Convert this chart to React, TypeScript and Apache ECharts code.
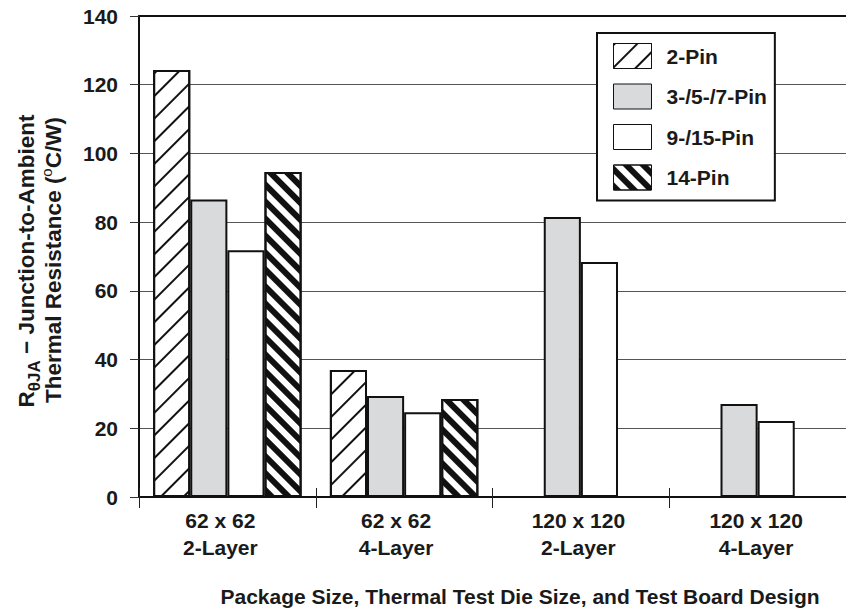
import React, { useEffect, useRef } from "react";
import * as echarts from "echarts";

const categories = ["62 x 62\n2-Layer", "62 x 62\n4-Layer", "120 x 120\n2-Layer", "120 x 120\n4-Layer"];
const seriesNames = ["2-Pin", "3-/5-/7-Pin", "9-/15-Pin", "14-Pin"];
const pin2 = [124.3, 37.0, null, null];
const pin357 = [86.6, 29.4, 81.5, 27.1];
const pin915 = [71.8, 24.7, 68.4, 22.1];
const pin14 = [94.6, 28.5, null, null];
const yTicks = [0, 20, 40, 60, 80, 100, 120, 140];

const FONT = "'Liberation Sans', Arial, Helvetica, sans-serif";
const TXT = "#1a1a1a";

export default function App() {
  const ref = useRef<HTMLDivElement>(null);
  useEffect(() => {
    if (!ref.current) return;
    const chart = echarts.init(ref.current, null, { renderer: "svg" });
    const labelShift = [14, 16, 5, 3];
    const baseLabel = { fontFamily: FONT, fontWeight: "bold", fontSize: 21, color: TXT };
    const border = { borderColor: "#111", borderWidth: 2 };
    const option: any = {
      animation: false,
      backgroundColor: "#fff",
      grid: { left: 139, top: 16, width: 714, height: 481, containLabel: false },
      legend: {
        show: true,
        orient: "vertical",
        left: 597,
        top: 33,
        padding: [10, 8, 10, 16],
        itemWidth: 38,
        itemHeight: 25,
        itemGap: 14.5,
        icon: "rect",
        borderColor: "#111",
        borderWidth: 2,
        backgroundColor: "#fff",
        itemStyle: { borderWidth: 1, borderColor: "#111" },
        textStyle: { ...baseLabel, padding: [0, 0, 0, 10] },
        data: seriesNames,
      },
      xAxis: [
        {
          type: "category",
          position: "bottom",
          data: categories.map((c, i) => ({ value: c, textStyle: { padding: [0, labelShift[i], 0, 0] } })),
          axisLine: { show: true, lineStyle: { color: "#111", width: 2 } },
          axisTick: { show: true, inside: false, length: 11, lineStyle: { color: "#222", width: 1 } },
          axisLabel: { ...baseLabel, lineHeight: 27, margin: 10, interval: 0 },
          splitLine: { show: false },
        },
        {
          type: "category",
          position: "bottom",
          data: categories,
          axisLine: { show: false },
          axisTick: { show: true, inside: true, length: 9, lineStyle: { color: "#222", width: 1 } },
          axisLabel: { show: false },
          splitLine: { show: false },
        },
        {
          type: "category",
          position: "top",
          data: categories,
          axisLine: { show: true, lineStyle: { color: "#111", width: 2 } },
          axisTick: { show: false },
          axisLabel: { show: false },
          splitLine: { show: false },
        },
      ],
      yAxis: {
        type: "value",
        min: yTicks[0],
        max: yTicks[yTicks.length - 1],
        interval: 20,
        axisLine: { show: true, lineStyle: { color: "#111", width: 2 } },
        axisTick: { show: true, inside: false, length: 9, lineStyle: { color: "#333", width: 1 } },
        axisLabel: { ...baseLabel, margin: 21 },
        splitLine: { show: true, lineStyle: { color: "#555", width: 1 } },
      },
      graphic: [
        {
          type: "text",
          x: 25,
          y: 261,
          rotation: Math.PI / 2,
          style: {
            text: "{a|R}{s|θJA}{a| − Junction-to-Ambient}",
            align: "center",
            verticalAlign: "middle",
            rich: {
              a: { fontFamily: FONT, fontWeight: "bold", fontSize: 22.5, fill: TXT, lineHeight: 26, verticalAlign: "bottom" },
              s: { fontFamily: FONT, fontWeight: "bold", fontSize: 17, fill: TXT, lineHeight: 26, verticalAlign: "bottom", padding: [0, 0, -5, 0] },
            },
          },
        },
        {
          type: "text",
          x: 52,
          y: 260,
          rotation: Math.PI / 2,
          style: {
            text: "{a|Thermal Resistance (}{o|o}{a|C/W)}",
            align: "center",
            verticalAlign: "middle",
            rich: {
              a: { fontFamily: FONT, fontWeight: "bold", fontSize: 22.5, fill: TXT, lineHeight: 26, verticalAlign: "bottom" },
              o: { fontFamily: FONT, fontWeight: "normal", fontSize: 15, fill: TXT, lineHeight: 26, verticalAlign: "top" },
            },
          },
        },
        {
          type: "text",
          x: 520,
          y: 596,
          style: {
            text: "Package Size, Thermal Test Die Size, and Test Board Design",
            align: "center",
            verticalAlign: "middle",
            fontFamily: FONT,
            fontWeight: "bold",
            fontSize: 21,
            fill: TXT,
          },
        },
      ],
      series: [
        {
          name: seriesNames[0],
          type: "bar",
          data: pin2,
          barGap: "0%",
          barCategoryGap: "16%",
          itemStyle: {
            color: "#fff",
            ...border,
            decal: {
              symbol: "rect",
              symbolSize: 1,
              color: "#111",
              backgroundColor: "#fff",
              dashArrayX: [1, 0],
              dashArrayY: [1.2, 13.8],
              rotation: -Math.PI / 4,
            },
          },
        },
        {
          name: seriesNames[1],
          type: "bar",
          data: pin357,
          barGap: "0%",
          barCategoryGap: "16%",
          itemStyle: { color: "#d9dadc", ...border },
        },
        {
          name: seriesNames[2],
          type: "bar",
          data: pin915,
          barGap: "0%",
          barCategoryGap: "16%",
          itemStyle: { color: "#fff", ...border },
        },
        {
          name: seriesNames[3],
          type: "bar",
          data: pin14,
          barGap: "0%",
          barCategoryGap: "16%",
          itemStyle: {
            color: "#fff",
            ...border,
            decal: {
              symbol: "rect",
              symbolSize: 1,
              color: "#111",
              backgroundColor: "#fff",
              dashArrayX: [1, 0],
              dashArrayY: [6, 6],
              rotation: Math.PI / 4,
            },
          },
        },
      ],
    };
    chart.setOption(option);
    return () => chart.dispose();
  }, []);
  return (
    <div
      ref={ref}
      style={{ position: "fixed", left: 0, top: 0, width: 846, height: 611, background: "#fff" }}
    />
  );
}
